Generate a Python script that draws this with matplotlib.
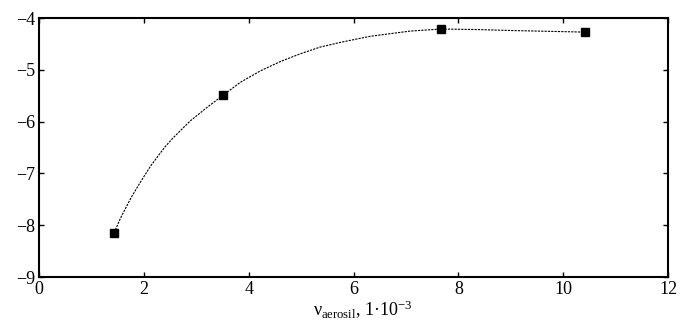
import numpy as np
import matplotlib
matplotlib.use('Agg')
import matplotlib.pyplot as plt

plt.rcParams['font.family'] = ['Liberation Serif', 'DejaVu Serif']
plt.rcParams['mathtext.fontset'] = 'custom'
plt.rcParams['mathtext.rm'] = 'Liberation Serif'
plt.rcParams['mathtext.it'] = 'Liberation Serif:italic'

# measured points
x_pts = [1.43, 3.51, 7.67, 10.42]
y_pts = [-8.15, -5.49, -4.21, -4.27]

# dotted curve
curve_x = [1.43, 1.56, 1.76, 1.95, 2.14, 2.40, 2.56, 2.88, 3.21, 3.51, 3.84,
           4.22, 4.60, 4.98, 5.36, 5.74, 6.32, 7.08, 7.67, 8.35, 9.05, 9.75, 10.42]
curve_y = [-8.15, -7.85, -7.46, -7.14, -6.84, -6.49, -6.31, -5.99, -5.72, -5.49, -5.24,
           -5.02, -4.84, -4.69, -4.56, -4.47, -4.35, -4.25, -4.21, -4.22, -4.24, -4.255, -4.27]

xticks = [0, 2, 4, 6, 8, 10, 12]
yticks = [-9, -8, -7, -6, -5, -4]

fig = plt.figure(figsize=(6.93, 3.24), dpi=100)
ax = fig.add_axes([0.0563, 0.145, 0.9077, 0.799])

ax.plot(curve_x, curve_y, color='black', lw=0.8, ls=(0, (2, 1)))
ax.plot(x_pts, y_pts, 's', color='black', markersize=5.5)

ax.set_xlim(0, 12)
ax.set_ylim(-9, -4)
ax.set_xticks(xticks)
ax.set_yticks(yticks)
ax.set_yticklabels(['\u2212%d' % abs(v) for v in yticks])
ax.tick_params(direction='in', length=3.5, width=1, labelsize=13,
               top=True, right=True, pad=3)
for s in ax.spines.values():
    s.set_linewidth(1.5)

ax.set_xlabel('\u03bd$_{\\mathrm{aerosil}}$, 1\u00b710$^{-3}$', fontsize=13, labelpad=1)
ax.xaxis.set_label_coords(0.514, -0.085)

fig.savefig('out.png', dpi=100)
